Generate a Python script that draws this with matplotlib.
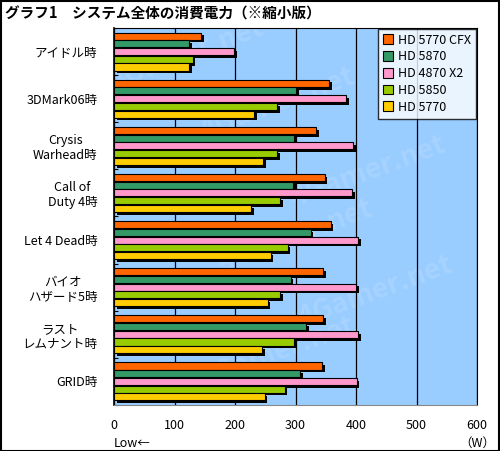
import matplotlib
matplotlib.use("Agg")
import matplotlib.pyplot as plt
import matplotlib.patheffects as pe
from matplotlib.patches import Rectangle
import numpy as np

plt.rcParams['font.family'] = ['Noto Sans CJK JP', 'DejaVu Sans']

# Data (W)
categories = ["アイドル時", "3DMark06時", "Crysis\nWarhead時", "Call of\nDuty 4時",
              "Let 4 Dead時", "バイオ\nハザード5時", "ラスト\nレムナント時", "GRID時"]
series_names = ["HD 5770 CFX", "HD 5870", "HD 4870 X2", "HD 5850", "HD 5770"]
hd5770cfx = [144, 356, 334, 348, 358, 345, 345, 344]
hd5870 = [124, 301, 297, 296, 325, 292, 317, 308]
hd4870x2 = [199, 384, 395, 393, 403, 400, 403, 401]
hd5850 = [130, 269, 269, 274, 287, 274, 297, 282]
hd5770 = [124, 232, 247, 226, 259, 254, 245, 249]
series_values = [hd5770cfx, hd5870, hd4870x2, hd5850, hd5770]
colors = ["#FF6600", "#339966", "#FF99CC", "#99CC00", "#FFCC00"]
xticks = [0, 100, 200, 300, 400, 500, 600]

fig = plt.figure(figsize=(5, 4.51), dpi=100)
ax = fig.add_axes([0.228, 0.102, 0.726, 0.836])
ax.set_facecolor("#99CCFF")

# watermark
for wx, wy in [(0.2, 0.93), (0.45, 0.8), (0.7, 0.62), (0.5, 0.45), (0.72, 0.3), (0.45, 0.14)]:
    ax.text(wx, wy, "4Gamer.net", transform=ax.transAxes, rotation=20,
            fontsize=20, fontweight="bold", color="white", alpha=0.13,
            ha="center", va="center", zorder=0.5, clip_on=True)

y = np.arange(len(categories))
step = 0.164
shadow = [pe.SimplePatchShadow(offset=(2.0, -2.0), shadow_rgbFace="black", alpha=1.0), pe.Normal()]
for i, (name, vals, c) in enumerate(zip(series_names, series_values, colors)):
    bars = ax.barh(y + (i - 2) * step, vals, height=0.15, color=c,
                   edgecolor="black", linewidth=0.8, label=name, zorder=3)
    for b in bars:
        b.set_path_effects(shadow)

ax.set_xlim(0, 600)
ax.set_ylim(len(categories) - 0.5, -0.5)
ax.set_xticks(xticks)
ax.set_xticklabels([str(t) for t in xticks], fontsize=9)
ax.tick_params(axis="x", length=0, pad=10)
ax.grid(axis="x", color="black", linewidth=0.9, zorder=1)
ax.set_axisbelow(True)

ax.set_yticks(y)
ax.set_yticklabels(categories, fontsize=9, multialignment="center")
ax.tick_params(axis="y", length=0, pad=12)
ax.set_yticks(np.arange(len(categories) + 1) - 0.5, minor=True)
ax.tick_params(axis="y", which="minor", length=3, direction="in", width=0.8)

for s in ["top", "right"]:
    ax.spines[s].set_color("black")
ax.spines["left"].set_color("black")
ax.spines["bottom"].set_color("#888888")
ax.spines["left"].set_linewidth(1.2)

ax.text(0, -0.085, "Low←", transform=ax.transAxes, fontsize=9, ha="left", va="top")
ax.text(1.0, -0.085, "（W）", transform=ax.transAxes, fontsize=9, ha="center", va="top")

leg = ax.legend(loc="upper right", fontsize=9, frameon=True, fancybox=False,
                borderaxespad=0.05, handlelength=0.8, handleheight=0.8,
                handletextpad=0.4, labelspacing=0.3, borderpad=0.4)
leg.get_frame().set_edgecolor("black")
leg.get_frame().set_linewidth(1.0)
leg.get_frame().set_facecolor("white")
leg.set_zorder(10)
for h in leg.legend_handles:
    h.set_path_effects([])

fig.text(0.01, 0.97, "グラフ1　システム全体の消費電力（※縮小版）", fontsize=10.5,
         fontweight="bold", ha="left", va="center")

fig.patches.append(Rectangle((0.001, 0.001), 0.997, 0.997, transform=fig.transFigure,
                             fill=False, edgecolor="black", linewidth=1.5))

fig.savefig("out.png", dpi=100)
